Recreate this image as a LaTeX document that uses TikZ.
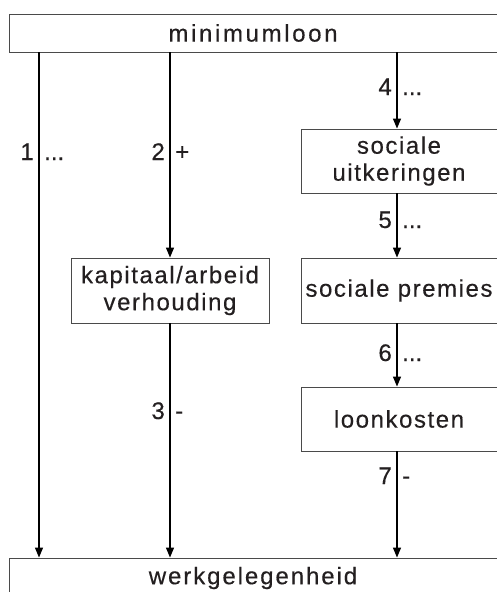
\documentclass[tikz,border=0pt]{standalone}
\usepackage{fontspec}
\setmainfont{Liberation Sans}[FakeBold=0.35]
\newfontfamily\boxfont{Liberation Sans}[LetterSpace=6.5,FakeBold=0.35]
\newfontfamily\topfont{Liberation Sans}[LetterSpace=11,FakeBold=0.35]
\newfontfamily\botfont{Liberation Sans}[LetterSpace=8,FakeBold=0.35]
\usetikzlibrary{arrows.meta}
\definecolor{ink}{HTML}{231F20}
\definecolor{frame}{HTML}{4A4A4A}
\tikzset{
  box/.style={draw=frame, line width=0.9pt, text=ink, inner sep=0pt, align=center,
    font=\boxfont\fontsize{24}{27}\selectfont},
  arr/.style={draw=black, line width=1.3pt, -{Triangle[length=10pt,width=8pt]}},
  numlab/.style={anchor=base east, inner sep=0pt, text=ink, font=\fontsize{24}{27}\selectfont},
  signlab/.style={anchor=base west, inner sep=0pt, text=ink, font=\fontsize{24}{27}\selectfont}
}
\begin{document}
\begin{tikzpicture}[x=1pt,y=-1pt]
\useasboundingbox (0,0) rectangle (496,592);
% boxes
\node[box, font=\topfont\fontsize{24}{27}\selectfont, minimum width=488pt, minimum height=38pt] (top) at (253,33) {minimumloon};
\node[box, font=\botfont\fontsize{24}{27}\selectfont, minimum width=488pt, minimum height=40pt] (bottom) at (253,578) {werkgelegenheid};
\node[box, minimum width=198pt, minimum height=65pt] (kap) at (170,290.5) {kapitaal/arbeid\\verhouding};
\node[box, minimum width=196pt, minimum height=64pt] (uit) at (399,161) {sociale\\uitkeringen};
\node[box, minimum width=196pt, minimum height=65pt] (prem) at (399,290.5) {sociale premies};
\node[box, minimum width=196pt, minimum height=64pt] (loon) at (399,419) {loonkosten};
% columns
\coordinate (c1) at (39,0);
\coordinate (c2) at (170,0);
\coordinate (c3) at (397,0);
% connectors
\draw[arr] (c1 |- top.south) -- (c1 |- bottom.north);
\draw[arr] (c2 |- top.south) -- (c2 |- kap.north);
\draw[arr] (c2 |- kap.south) -- (c2 |- bottom.north);
\draw[arr] (c3 |- top.south) -- (c3 |- uit.north);
\draw[arr] (c3 |- uit.south) -- (c3 |- prem.north);
\draw[arr] (c3 |- prem.south) -- (c3 |- loon.north);
\draw[arr] (c3 |- loon.south) -- (c3 |- bottom.north);
% labels
\node[numlab] (n1) at (34,160) {1};
\node[signlab] (s1) at (44,160) {...};
\node[numlab] (n2) at (165,160) {2};
\node[signlab] (s2) at (175,160) {+};
\node[numlab] (n3) at (165,419) {3};
\node[signlab] (s3) at (175,419) {-};
\node[numlab] (n4) at (392,95) {4};
\node[signlab] (s4) at (402,95) {...};
\node[numlab] (n5) at (392,228) {5};
\node[signlab] (s5) at (402,228) {...};
\node[numlab] (n6) at (392,361) {6};
\node[signlab] (s6) at (402,361) {...};
\node[numlab] (n7) at (392,484) {7};
\node[signlab] (s7) at (402,484) {-};
\end{tikzpicture}
\end{document}
